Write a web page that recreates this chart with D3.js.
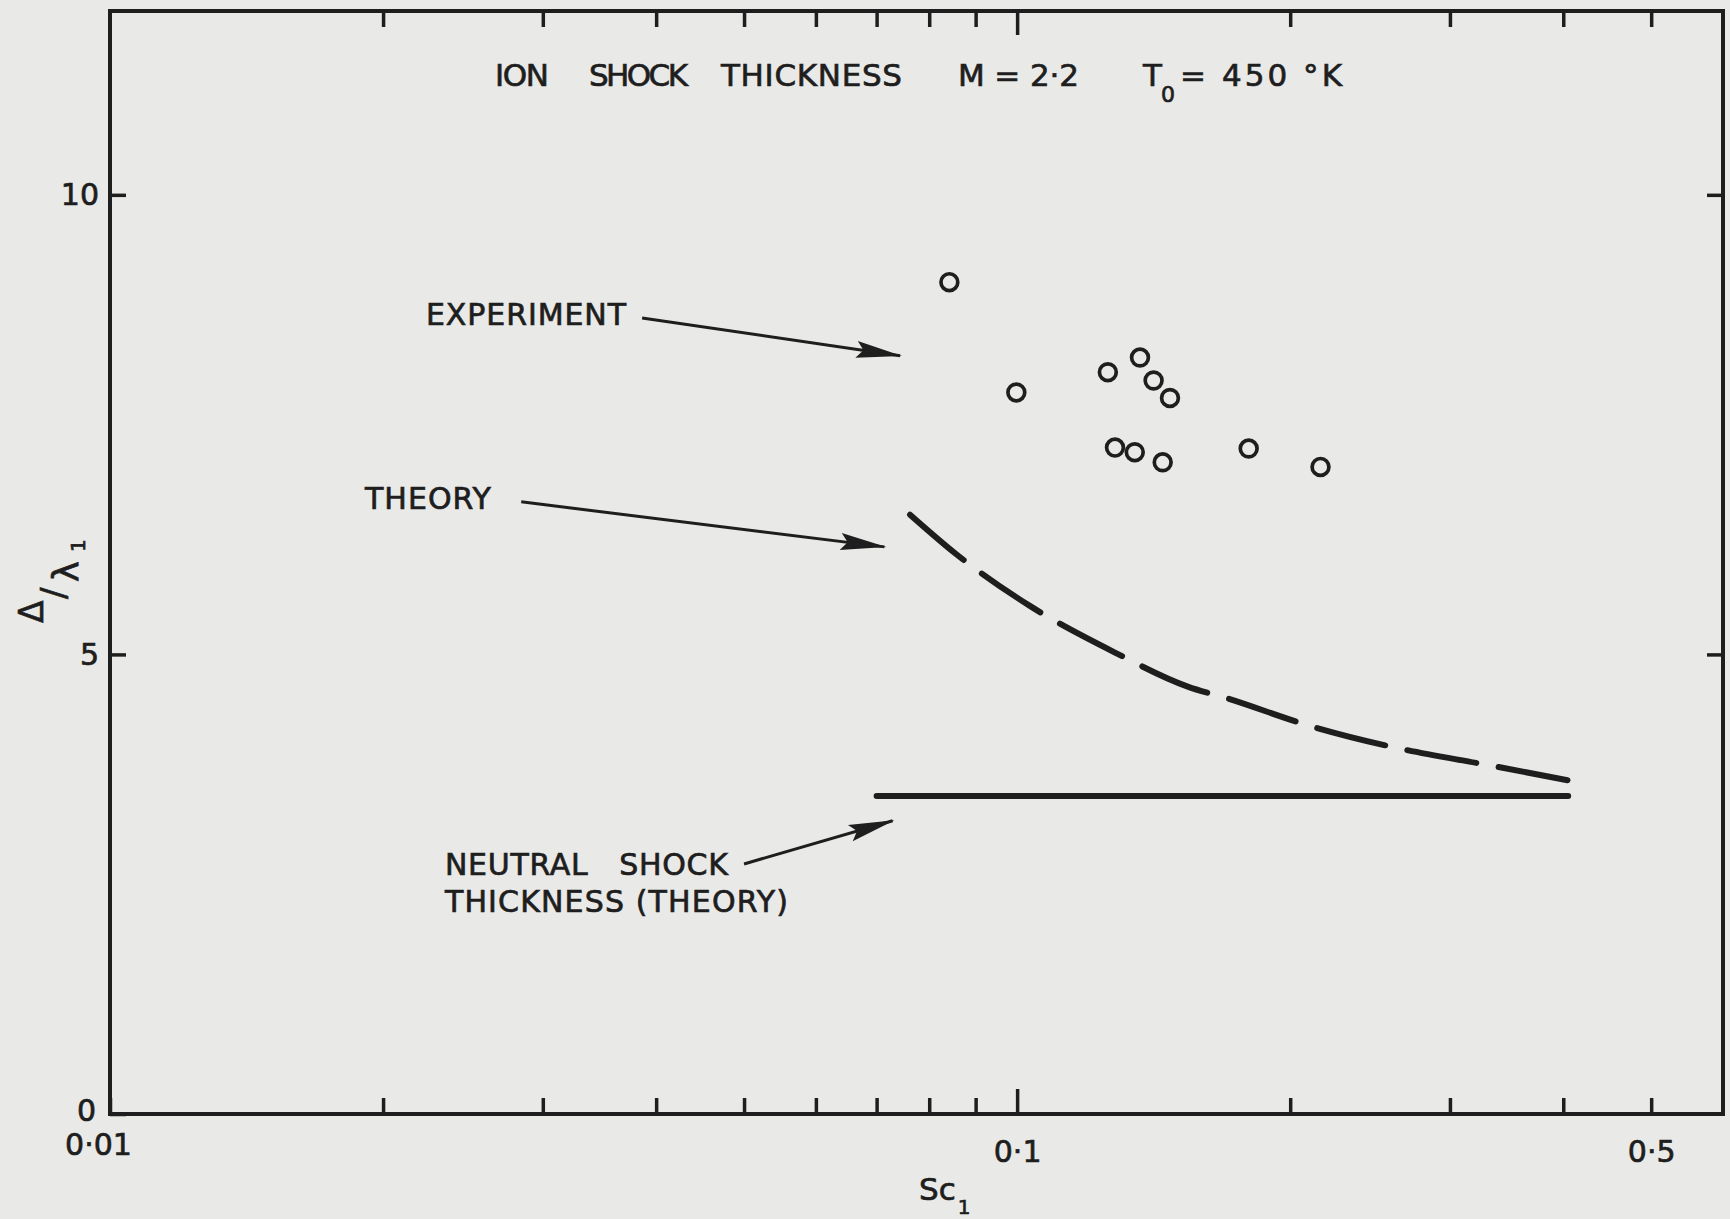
<!DOCTYPE html>
<html lang="en">

<head>
	<meta charset="UTF-8">
	<title>ion shock thickness</title>
	<script type="text/javascript" src="https://cdn.jsdelivr.net/npm/d3@7/dist/d3.min.js" charset="UTF-8"></script>
	<style>
		body { margin: 0; background: #e9e9e7; }
		svg { display: block; }
		text { font-family: "DejaVu Sans", "Liberation Sans", sans-serif; fill: #1e1e1e; stroke: #1e1e1e; stroke-width: 0.7px; }
	</style>
</head>

<body>
	<script type="text/javascript">
	// measured points, Sc1 vs delta / lambda1
	let expSc = [0.0842, 0.0998, 0.1259, 0.1366, 0.1414, 0.1474, 0.1282, 0.1348, 0.1447, 0.1800, 0.2160]
	let expDelta = [9.05, 7.85, 8.07, 8.23, 7.98, 7.79, 7.25, 7.20, 7.09, 7.24, 7.04]

	// ion shock theory (dashed)
	let theorySc = [0.0762, 0.0857, 0.1036, 0.1282, 0.1542, 0.1707, 0.2106, 0.2658, 0.3289, 0.405]
	let theoryDelta = [6.52, 6.09, 5.52, 5.02, 4.65, 4.52, 4.22, 3.97, 3.80, 3.63]

	// neutral shock thickness (theory)
	let neutralSc = [0.07, 0.405]
	let neutralDelta = [3.46, 3.46]

	let xTicks = [0.01, 0.02, 0.03, 0.04, 0.05, 0.06, 0.07, 0.08, 0.09, 0.1, 0.2, 0.3, 0.4, 0.5]
	let xTickLabels = ['0·01', '', '', '', '', '', '', '', '', '0·1', '', '', '', '0·5']
	let yTicks = [0, 5, 10]
	let yTickLabels = ['0', '5', '10']

	let ink = '#1e1e1e'

	let margin = { top: 11, right: 7, bottom: 105, left: 110 }
	let width = 1730 - margin.left - margin.right,
		height = 1219 - margin.top - margin.bottom

	let x = d3.scaleLog().domain([0.01, 0.6]).range([0, width])
	let y = d3.scaleLinear().domain([0, 12]).range([height, 0])

	let svg = d3.select('body').append('svg')
		.attr('width', 1730)
		.attr('height', 1219)

	let defs = svg.append('defs')
	defs.append('marker')
		.attr('id', 'head')
		.attr('viewBox', '-48 -10 52 20')
		.attr('refX', 0)
		.attr('refY', 0)
		.attr('markerWidth', 52)
		.attr('markerHeight', 20)
		.attr('markerUnits', 'userSpaceOnUse')
		.attr('orient', 'auto')
		.append('path')
		.attr('d', 'M2,0 L-44,-8.5 L-37,0 L-44,8.5 Z')
		.attr('fill', ink)

	let g = svg.append('g')
		.attr('transform', `translate(${margin.left},${margin.top})`)

	// axes, ticks point inward on all four sides
	function styleAxis(sel) {
		sel.select('.domain').remove()
		sel.selectAll('.tick line').attr('stroke', ink).attr('stroke-width', 3.5)
		sel.selectAll('.tick text')
			.attr('fill', ink)
			.attr('font-family', '"DejaVu Sans", sans-serif')
			.attr('font-size', 30)
	}

	let xLab = d => xTickLabels[xTicks.indexOf(d)]

	let bottomAxis = g.append('g')
		.attr('transform', `translate(0,${height})`)
		.call(d3.axisBottom(x).tickValues(xTicks).tickFormat(xLab)
			.tickSizeInner(-16).tickSizeOuter(0).tickPadding(27))
		.call(styleAxis)
	bottomAxis.selectAll('.tick').filter(d => d === 0.1).select('line').attr('y2', -25)
	bottomAxis.selectAll('.tick').filter(d => d === 0.01).select('text').attr('transform', 'translate(-12,-7)')

	let topAxis = g.append('g')
		.call(d3.axisTop(x).tickValues(xTicks.slice(1)).tickFormat('')
			.tickSizeInner(-16).tickSizeOuter(0))
		.call(styleAxis)
	topAxis.selectAll('.tick').filter(d => d === 0.1).select('line').attr('y2', 24)

	let leftAxis = g.append('g')
		.call(d3.axisLeft(y).tickValues(yTicks).tickFormat((d, i) => yTickLabels[i])
			.tickSizeInner(-16).tickSizeOuter(0).tickPadding(11))
		.call(styleAxis)
	leftAxis.selectAll('.tick').filter(d => d === 0).select('text').attr('transform', 'translate(-3,-3)')

	g.append('g')
		.attr('transform', `translate(${width},0)`)
		.call(d3.axisRight(y).tickValues(yTicks.slice(1)).tickFormat('')
			.tickSizeInner(-16).tickSizeOuter(0))
		.call(styleAxis)

	g.append('rect')
		.attr('width', width)
		.attr('height', height)
		.attr('fill', 'none')
		.attr('stroke', ink)
		.attr('stroke-width', 4)

	// curves
	let line = d3.line()
		.x(d => x(d[0]))
		.y(d => y(d[1]))

	let theory = g.append('path')
		.attr('d', line.curve(d3.curveMonotoneX)(d3.zip(theorySc, theoryDelta)))
		.attr('fill', 'none')
		.attr('stroke', ink)
		.attr('stroke-width', 6)
		.attr('stroke-linecap', 'round')

	// stretch the dash period so the curve ends on a full dash
	let len = theory.node().getTotalLength()
	let dash = 68, gap = 22
	let n = Math.round((len + gap) / (dash + gap))
	let k = (len + gap) / (n * (dash + gap))
	theory.attr('stroke-dasharray', `${dash * k} ${gap * k}`)

	g.append('path')
		.attr('d', line.curve(d3.curveLinear)(d3.zip(neutralSc, neutralDelta)))
		.attr('fill', 'none')
		.attr('stroke', ink)
		.attr('stroke-width', 6)
		.attr('stroke-linecap', 'round')

	g.selectAll('circle')
		.data(d3.zip(expSc, expDelta))
		.enter()
		.append('circle')
		.attr('cx', d => x(d[0]))
		.attr('cy', d => y(d[1]))
		.attr('r', 8.4)
		.attr('fill', 'none')
		.attr('stroke', ink)
		.attr('stroke-width', 3.7)

	// annotations, anchored in data units
	let notes = [
		{ text: ['EXPERIMENT'], w: [200], at: [0.0223, 8.58], from: [0.0386, 8.66], to: [0.0743, 8.25] },
		{ text: ['THEORY'], w: [126], at: [0.0191, 6.58], from: [0.0284, 6.66], to: [0.0714, 6.17] },
		{ text: ['NEUTRAL   SHOCK', 'THICKNESS (THEORY)'], w: [283, 343], at: [0.0234, 2.60], from: [0.0500, 2.72], to: [0.0729, 3.19] }
	]

	notes.forEach(n => {
		n.text.forEach((t, i) => {
			g.append('text')
				.attr('x', x(n.at[0]))
				.attr('y', y(n.at[1]) + i * 37)
				.attr('font-size', 30)
				.attr('textLength', n.w[i])
				.attr('lengthAdjust', 'spacing')
				.style('white-space', 'pre')
				.text(t)
		})
		g.append('line')
			.attr('x1', x(n.from[0]))
			.attr('y1', y(n.from[1]))
			.attr('x2', x(n.to[0]))
			.attr('y2', y(n.to[1]))
			.attr('stroke', ink)
			.attr('stroke-width', 3)
			.attr('marker-end', 'url(#head)')
	})

	// title
	let titleParts = [
		{ t: 'ION', x: 495, w: 54 },
		{ t: 'SHOCK', x: 589, w: 99 },
		{ t: 'THICKNESS', x: 721, w: 181 },
		{ t: 'M = 2·2', x: 958, w: 121 },
		{ t: 'T', x: 1143, w: 0 },
		{ t: '= 450 °K', x: 1180, w: 162 }
	]
	let title = svg.append('g')
	titleParts.forEach(p => {
		let tx = title.append('text')
			.attr('x', p.x)
			.attr('y', 86)
			.attr('font-size', 31)
			.style('white-space', 'pre')
			.text(p.t)
		if (p.w) tx.attr('textLength', p.w).attr('lengthAdjust', 'spacing')
	})
	title.append('text')
		.attr('x', 1161)
		.attr('y', 102)
		.attr('font-size', 22)
		.text('0')

	// axis titles
	let xt = svg.append('text')
		.attr('x', 919)
		.attr('y', 1200)
		.attr('font-size', 31)
	xt.append('tspan').text('Sc')
	xt.append('tspan').attr('font-size', 20).attr('dy', 14).attr('dx', 2).text('1')

	let yt = svg.append('g')
		.attr('transform', 'translate(45,590) rotate(-90)')
	yt.append('text').attr('x', -33).attr('y', -2).attr('font-size', 33).text('Δ')
	yt.append('text').attr('x', -9).attr('y', 20).attr('font-size', 34).text('/')
	yt.append('text').attr('x', 8).attr('y', 33).attr('font-size', 35).text('λ')
	yt.append('text').attr('x', 38).attr('y', 40).attr('font-size', 20).text('1')
	</script>
</body>

</html>
